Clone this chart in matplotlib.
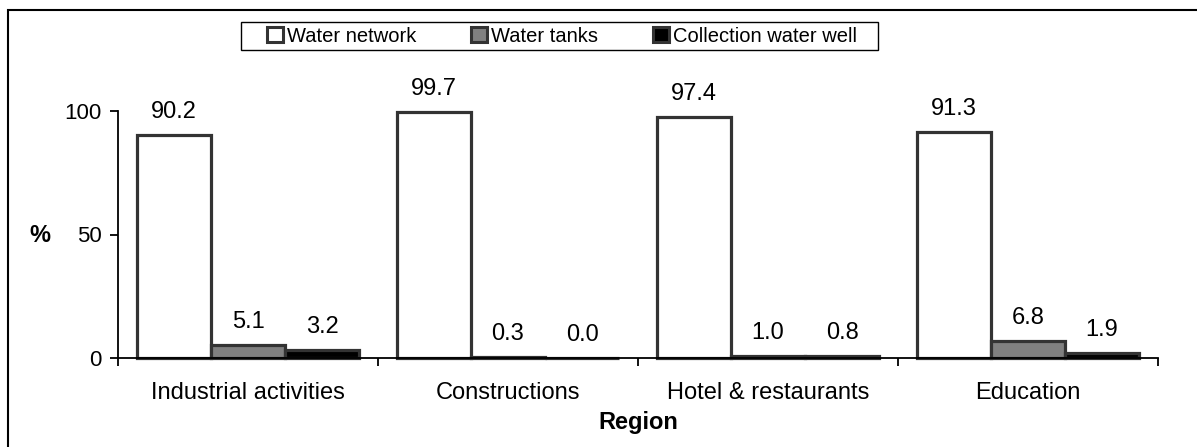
import matplotlib.pyplot as plt
import numpy as np
from matplotlib.patches import Rectangle

plt.rcParams['font.family'] = ['Liberation Sans', 'DejaVu Sans']

categories = ["Industrial activities", "Constructions", "Hotel & restaurants", "Education"]
waterNetwork = [90.2, 99.7, 97.4, 91.3]
waterTanks = [5.1, 0.3, 1.0, 6.8]
collectionWell = [3.2, 0.0, 0.8, 1.9]
seriesNames = ["Water network", "Water tanks", "Collection water well"]

W, H = 1197, 447
fig = plt.figure(figsize=(W / 100, H / 100), dpi=100)
ax = fig.add_axes([118 / W, 1 - 358 / H, (1158 - 118) / W, (358 - 111) / H])

# outer frame (right and bottom are cut off in the original)
fig.patches.append(Rectangle((8 / W, -0.1), 1.2, 1.1 - 10 / H,
                             transform=fig.transFigure, fill=False, edgecolor="black", linewidth=1.5))
# legend frame, wider than matplotlib's padding allows
fig.patches.append(Rectangle((241 / W, 1 - 50 / H), (878 - 241) / W, 28 / H,
                             transform=fig.transFigure, fill=False, edgecolor="black", linewidth=1.0))

x = np.arange(len(categories))
w = 0.285
colors = ["white", "#808080", "black"]
allSeries = [waterNetwork, waterTanks, collectionWell]

for i, (vals, col, name) in enumerate(zip(allSeries, colors, seriesNames)):
    pos = x + (i - 1) * w
    ax.bar(pos, vals, w, color=col, edgecolor="#333333", linewidth=2.3, label=name, clip_on=False)
    for p, v in zip(pos, vals):
        ax.annotate(f"{v:.1f}", (p, v), xytext=(0, 23), textcoords="offset pixels",
                    ha="center", va="center", fontsize=17)

ax.set_xlim(-0.5, len(categories) - 0.5)
ax.set_ylim(0, 100)
ax.set_yticks([0, 50, 100])
ax.set_xticks(np.arange(len(categories) + 1) - 0.5, minor=False)
ax.set_xticklabels([])
ax.set_xticks(x, minor=True)
ax.set_xticklabels(categories, minor=True, fontsize=17)
ax.tick_params(axis="x", which="minor", length=0, pad=17)
ax.tick_params(axis="x", which="major", length=6, width=1.3, direction="out")
ax.tick_params(axis="y", length=6, width=1.3, labelsize=16, pad=6)
for s in ["top", "right"]:
    ax.spines[s].set_visible(False)
ax.spines["left"].set_linewidth(1.3)
ax.spines["bottom"].set_linewidth(1.3)

fig.text(40 / W, 1 - 236 / H, "%", fontsize=17, fontweight="bold", ha="center", va="center")
fig.text((118 + 1158) / 2 / W, 1 - 423 / H, "Region", fontsize=17, fontweight="bold",
         ha="center", va="center")

leg = fig.legend(loc="center", bbox_to_anchor=((241 + 878) / 2 / W + 0.002, 1 - 36 / H), ncol=3,
                 fontsize=14.5, frameon=False, handlelength=0.8, handleheight=0.8, handletextpad=0.2,
                 columnspacing=2.7, borderpad=0.25)
for h in leg.legend_handles:
    h.set_linewidth(2.2)

fig.savefig("out.png", dpi=100)
